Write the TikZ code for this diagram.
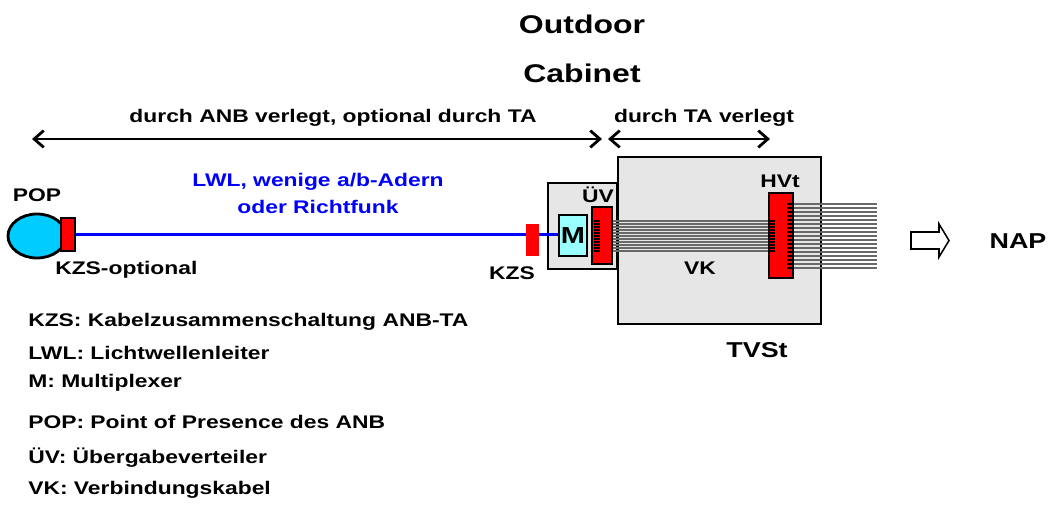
\documentclass[tikz,border=0pt]{standalone}
\usepackage{fontspec}
\usepackage{tikz}
\usetikzlibrary{positioning, arrows.meta, shapes.geometric}
\newfontfamily\diagfont{Liberation Sans}[FakeStretch=1.25]
\definecolor{popblue}{RGB}{0,204,255}
\definecolor{muxcyan}{RGB}{153,255,255}
\definecolor{cabgray}{RGB}{230,230,230}
\definecolor{wiregray}{RGB}{105,105,105}
\tikzset{
    % Text styles
    lbl/.style={font=\diagfont\bfseries\fontsize{13}{15}\selectfont, inner sep=0pt},
    big lbl/.style={font=\diagfont\bfseries\fontsize{15.3}{18}\selectfont, inner sep=0pt},
    title lbl/.style={font=\diagfont\bfseries\fontsize{18.2}{22}\selectfont, inner sep=0pt},
    legend/.style={lbl, anchor=west},
    % Box styles
    box/.style={rectangle, draw, line width=2pt, inner sep=0pt},
    cabinet/.style={box, fill=cabgray},
    redbar/.style={box, fill=red, line width=1.8pt},
    % Line styles
    dim arrow/.style={{Straight Barb[length=2.4mm,width=4.2mm]}-{Straight Barb[length=2.4mm,width=4.2mm]}, line width=2pt},
    fibre/.style={blue, line width=2.8pt},
    wire/.style={wiregray, line width=0.75pt},
    tick/.style={black, line width=0.8pt},
}

\begin{document}
\begin{tikzpicture}[x=0.025cm, y=-0.025cm]
    \useasboundingbox (0,0) rectangle (1050,505);

    % Headings
    \node[title lbl] (outdoor) at (582,24) {Outdoor};
    \node[title lbl] (cabinetlbl) at (582,73) {Cabinet};

    % Extent arrows
    \coordinate (anbL) at (32,139);
    \coordinate (anbR) at (602,139);
    \coordinate (taL) at (608,139);
    \coordinate (taR) at (770,139);
    \draw[dim arrow] (anbL) -- (anbR);
    \draw[dim arrow] (taL) -- (taR);
    \node[lbl] (anbtxt) at (333,118) {durch ANB verlegt, optional durch TA};
    \node[lbl] (tatxt) at (704,118) {durch TA verlegt};

    % Switching centre and cabinet
    \node[cabinet, minimum width=5.075cm, minimum height=4.175cm] (tvst) at (719.5,240.5) {};
    \node[cabinet, minimum width=1.725cm, minimum height=2.15cm] (cab) at (582.5,226) {};

    % POP side
    \node[ellipse, draw, line width=2pt, fill=popblue, minimum width=1.45cm, minimum height=1.1cm] (pop) at (37,236) {};
    \node[redbar, minimum width=0.35cm, minimum height=0.825cm] (kzsopt) at (68,234.5) {};
    \node[box, fill=muxcyan, minimum width=0.7cm, minimum height=1.025cm,
          font=\diagfont\bfseries\fontsize{16.5}{18}\selectfont] (mux) at (573,235.5) {M};

    % Fibre link
    \draw[fibre] (kzsopt.east) -- (mux.west |- kzsopt.east);
    \node[rectangle, fill=red, minimum width=0.33cm, minimum height=0.8cm, inner sep=0pt] (kzs) at (532.5,240) {};

    % Distribution bars
    \node[redbar, minimum width=0.5cm, minimum height=1.425cm] (uev) at (602,235.5) {};
    \node[redbar, minimum width=0.6cm, minimum height=2.125cm] (hvt) at (781,235.5) {};

    % Connecting cable (VK) between the bars
    \foreach \i in {0,...,10} {
        \pgfmathsetmacro{\wy}{221+3*\i}
        \draw[wire] (uev.east |- 0,\wy) -- (hvt.west |- 0,\wy);
        \draw[tick] ([xshift=0.075cm]uev.west |- 0,\wy) -- ([xshift=0.225cm]uev.west |- 0,\wy);
        \draw[tick] ([xshift=0.025cm]hvt.west |- 0,\wy) -- ([xshift=0.175cm]hvt.west |- 0,\wy);
    }
    % Subscriber lines to NAP
    \coordinate (wireend) at (877,204);
    \foreach \i in {0,...,16} {
        \pgfmathsetmacro{\wy}{204+4*\i}
        \draw[wire] (hvt.east |- 0,\wy) -- (wireend |- 0,\wy);
        \draw[tick] ([xshift=-0.175cm]hvt.east |- 0,\wy) -- (hvt.east |- 0,\wy);
    }

    % Outline arrow towards NAP
    \draw[line width=1.1pt] (911,232) -- (939,232) -- (939,224) -- (949,240.5)
        -- (939,257) -- (939,249) -- (911,249) -- cycle;
    \node[big lbl] (nap) at (1018,241) {NAP};

    % Labels
    \node[lbl] (poplbl) at (37,195) {POP};
    \node[lbl, anchor=west] (kzsoptlbl) at (55,270) {KZS-optional};
    \node[lbl, blue] (lwl1) at (318,182) {LWL, wenige a/b-Adern};
    \node[lbl, blue] (lwl2) at (318,207) {oder Richtfunk};
    \node[lbl] (kzslbl) at (512,273) {KZS};
    \node[lbl] (uevlbl) at (598,195) {ÜV};
    \node[lbl] (hvtlbl) at (780,181) {HVt};
    \node[lbl] (vklbl) at (700,268) {VK};
    \node[big lbl] (tvstlbl) at (757,350) {TVSt};

    % Legend
    \node[legend] (leg1) at (28,322) {KZS: Kabelzusammenschaltung ANB-TA};
    \node[legend] (leg2) at (28,353) {LWL: Lichtwellenleiter};
    \node[legend] (leg3) at (28,383) {M: Multiplexer};
    \node[legend] (leg4) at (28,422) {POP: Point of Presence des ANB};
    \node[legend] (leg5) at (28,458) {ÜV: Übergabeverteiler};
    \node[legend] (leg6) at (28,490) {VK: Verbindungskabel};
\end{tikzpicture}
\end{document}
